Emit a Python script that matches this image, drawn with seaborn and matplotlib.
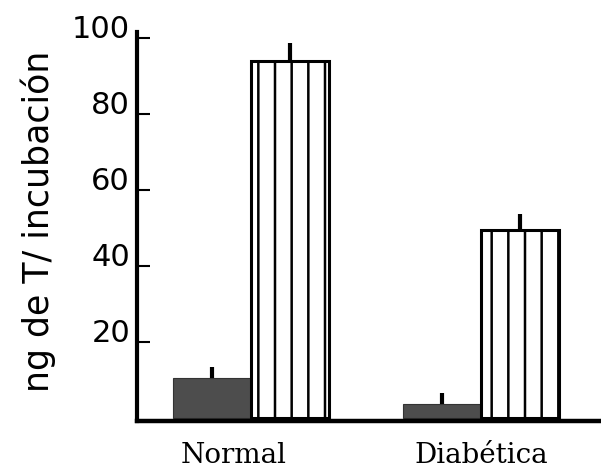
import numpy as np
import pandas as pd
import matplotlib
matplotlib.use("Agg")
import matplotlib.pyplot as plt
import seaborn as sns

# Testosterone produced per incubation (ng), mean and standard error
grupos = ["Normal", "Diabética"]
tratamientos = ["Basal", "Estimulada"]
media_basal = [10.5, 3.7]
media_estimulada = [94.0, 49.5]
ee_basal = [3.0, 3.0]
ee_estimulada = [4.7, 4.2]
yticks = [20, 40, 60, 80, 100]

df = pd.DataFrame({
    "grupo": grupos * 2,
    "tratamiento": [tratamientos[0]] * 2 + [tratamientos[1]] * 2,
    "media": media_basal + media_estimulada,
    "ee": ee_basal + ee_estimulada,
})

sns.set_theme(style="ticks")
plt.rcParams["hatch.linewidth"] = 1.8

fig = plt.figure(figsize=(6.01, 4.71), dpi=100)
ax = fig.add_axes([0.228, 0.106, 0.772, 0.826])

sns.barplot(
    data=df, x="grupo", y="media", hue="tratamiento", order=grupos,
    hue_order=tratamientos, palette=["#4d4d4d", "white"], width=0.678,
    errorbar=None, legend=False, ax=ax, saturation=1,
)

# basal bars: solid dark fill; stimulated bars: white with vertical stripes
for bar in ax.containers[0]:
    bar.set_edgecolor("#333333")
    bar.set_linewidth(0.8)
for bar in ax.containers[1]:
    bar.set_hatch("|")
    bar.set_edgecolor("black")
    bar.set_linewidth(2.2)

# upward-only standard error bars
for cont, sub in zip(ax.containers, tratamientos):
    d = df[df["tratamiento"] == sub].set_index("grupo").loc[grupos]
    xs = [b.get_x() + b.get_width() / 2 for b in cont]
    ax.errorbar(xs, d["media"], yerr=[np.zeros(len(xs)), d["ee"]],
                fmt="none", ecolor="black", elinewidth=3, capsize=0, zorder=3)

ax.set_xlim(-0.496, 1.522)
ax.set_ylim(-0.8, 101.6)
ax.set_yticks(yticks)
ax.set_yticklabels([str(v) for v in yticks], fontsize=22,
                   family="DejaVu Sans", color="black")
for lab in ax.get_yticklabels():
    lab.set_va("baseline")
ax.tick_params(axis="y", direction="in", length=9, width=1.5, pad=5,
               colors="black", labelcolor="black")

ax.set_xticks([-0.074, 1.0])
ax.set_xticklabels(grupos, fontsize=20, family="DejaVu Serif", color="black")
ax.tick_params(axis="x", length=0, pad=15, colors="black", labelcolor="black")
ax.set_xlabel("")

ax.set_ylabel("ng de T/ incubación", fontsize=25,
              family="DejaVu Sans", color="black", va="center")
ax.yaxis.set_label_coords(-0.213, 0.514)

sns.despine(ax=ax)
ax.spines["left"].set_linewidth(3)
ax.spines["bottom"].set_linewidth(3.2)
for s in ("left", "bottom"):
    ax.spines[s].set_color("black")

fig.savefig("out.png", dpi=100, facecolor="white")
